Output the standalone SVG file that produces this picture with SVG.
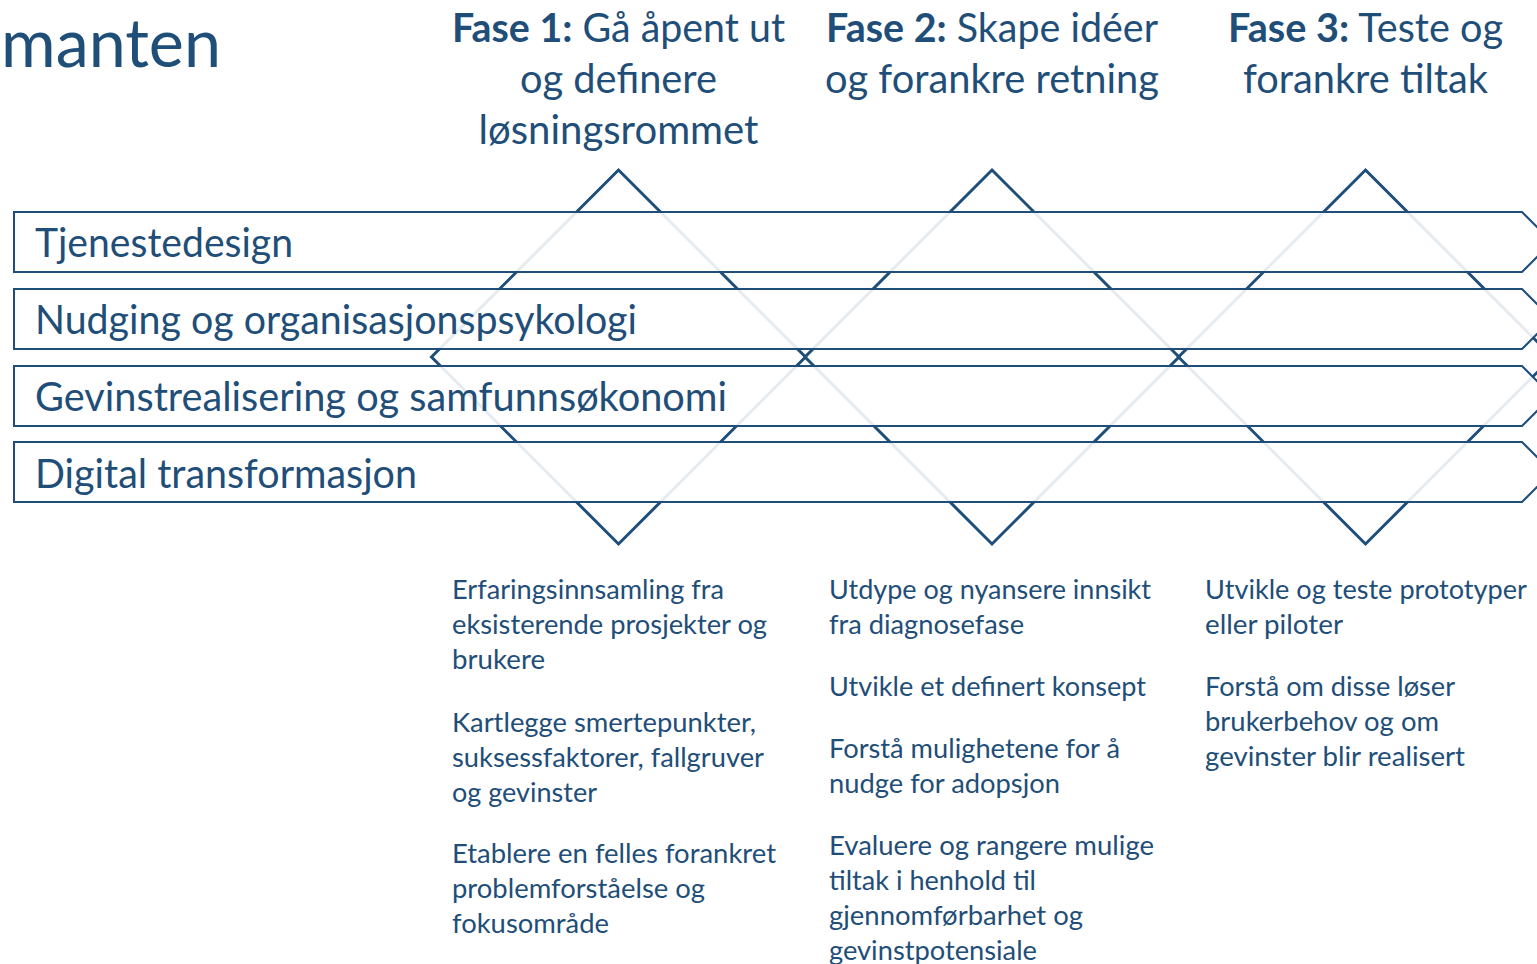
<svg xmlns="http://www.w3.org/2000/svg" width="1537" height="964" viewBox="0 0 1537 964">
<style>
  .t { font-family: Lato, "Open Sans", "Liberation Sans", sans-serif; fill: #1F4E79; }
  .h { font-size: 41px; text-anchor: middle; }
  .b { font-weight: 700; }
  .lab { font-size: 41px; }
  .d { font-size: 27.5px; }
  .dia { fill: none; stroke: #1F4E79; stroke-width: 3; stroke-linejoin: miter; }
  .bar { fill: #ffffff; fill-opacity: 0.89; stroke: #1F4E79; stroke-width: 2; }
</style>
<rect width="1537" height="964" fill="#ffffff"/>

<g id="title">
  <text class="t" x="1" y="67" font-size="68" textLength="220" lengthAdjust="spacingAndGlyphs">manten</text>
</g>

<g id="diamond-1"><path class="dia" d="M618.5 170 L805.5 357 L618.5 544 L431.5 357 Z"/></g>
<g id="diamond-2"><path class="dia" d="M992 170 L1179 357 L992 544 L805 357 Z"/></g>
<g id="diamond-3"><path class="dia" d="M1365.5 170 L1552.5 357 L1365.5 544 L1178.5 357 Z"/></g>

<g id="bar-tjenestedesign">
  <path class="bar" d="M14 212 H1522 L1552 242 L1522 272 H14 Z"/>
  <text class="t lab" x="35" y="257" textLength="258" lengthAdjust="spacingAndGlyphs">Tjenestedesign</text>
</g>
<g id="bar-nudging">
  <path class="bar" d="M14 289 H1522 L1552 319 L1522 349 H14 Z"/>
  <text class="t lab" x="35" y="334" textLength="602" lengthAdjust="spacingAndGlyphs">Nudging og organisasjonspsykologi</text>
</g>
<g id="bar-gevinst">
  <path class="bar" d="M14 366 H1522 L1552 396 L1522 426 H14 Z"/>
  <text class="t lab" x="35" y="411" textLength="692" lengthAdjust="spacingAndGlyphs">Gevinstrealisering og samfunnsøkonomi</text>
</g>
<g id="bar-digital">
  <path class="bar" d="M14 442 H1522 L1552 472 L1522 502 H14 Z"/>
  <text class="t lab" x="35" y="487.5" textLength="382" lengthAdjust="spacingAndGlyphs">Digital transformasjon</text>
</g>

<g id="fase-1-header">
  <text class="t h" x="618.5" y="42" textLength="333" lengthAdjust="spacingAndGlyphs"><tspan class="b">Fase 1:</tspan> Gå åpent ut</text>
  <text class="t h" x="618.5" y="93" textLength="197" lengthAdjust="spacingAndGlyphs">og definere</text>
  <text class="t h" x="618.5" y="144" textLength="280" lengthAdjust="spacingAndGlyphs">løsningsrommet</text>
</g>
<g id="fase-2-header">
  <text class="t h" x="992" y="42" textLength="332" lengthAdjust="spacingAndGlyphs"><tspan class="b">Fase 2:</tspan> Skape idéer</text>
  <text class="t h" x="992" y="93" textLength="334" lengthAdjust="spacingAndGlyphs">og forankre retning</text>
</g>
<g id="fase-3-header">
  <text class="t h" x="1365.5" y="42" textLength="275" lengthAdjust="spacingAndGlyphs"><tspan class="b">Fase 3:</tspan> Teste og</text>
  <text class="t h" x="1365.5" y="93" textLength="245" lengthAdjust="spacingAndGlyphs">forankre tiltak</text>
</g>

<g id="fase-1-tiltak">
  <text class="t d" x="452" y="599" textLength="272" lengthAdjust="spacingAndGlyphs">Erfaringsinnsamling fra</text>
  <text class="t d" x="452" y="634" textLength="315" lengthAdjust="spacingAndGlyphs">eksisterende prosjekter og</text>
  <text class="t d" x="452" y="669" textLength="93" lengthAdjust="spacingAndGlyphs">brukere</text>
  <text class="t d" x="452" y="732" textLength="304" lengthAdjust="spacingAndGlyphs">Kartlegge smertepunkter,</text>
  <text class="t d" x="452" y="767" textLength="312" lengthAdjust="spacingAndGlyphs">suksessfaktorer, fallgruver</text>
  <text class="t d" x="452" y="802" textLength="145" lengthAdjust="spacingAndGlyphs">og gevinster</text>
  <text class="t d" x="452" y="863" textLength="324" lengthAdjust="spacingAndGlyphs">Etablere en felles forankret</text>
  <text class="t d" x="452" y="898" textLength="253" lengthAdjust="spacingAndGlyphs">problemforståelse og</text>
  <text class="t d" x="452" y="933" textLength="157" lengthAdjust="spacingAndGlyphs">fokusområde</text>
</g>
<g id="fase-2-tiltak">
  <text class="t d" x="829" y="599" textLength="322" lengthAdjust="spacingAndGlyphs">Utdype og nyansere innsikt</text>
  <text class="t d" x="829" y="634" textLength="195" lengthAdjust="spacingAndGlyphs">fra diagnosefase</text>
  <text class="t d" x="829" y="696" textLength="317" lengthAdjust="spacingAndGlyphs">Utvikle et definert konsept</text>
  <text class="t d" x="829" y="758" textLength="291" lengthAdjust="spacingAndGlyphs">Forstå mulighetene for å</text>
  <text class="t d" x="829" y="793" textLength="231" lengthAdjust="spacingAndGlyphs">nudge for adopsjon</text>
  <text class="t d" x="829" y="855" textLength="325" lengthAdjust="spacingAndGlyphs">Evaluere og rangere mulige</text>
  <text class="t d" x="829" y="890" textLength="207" lengthAdjust="spacingAndGlyphs">tiltak i henhold til</text>
  <text class="t d" x="829" y="925" textLength="254" lengthAdjust="spacingAndGlyphs">gjennomførbarhet og</text>
  <text class="t d" x="829" y="960" textLength="208" lengthAdjust="spacingAndGlyphs">gevinstpotensiale</text>
</g>
<g id="fase-3-tiltak">
  <text class="t d" x="1205" y="599" textLength="322" lengthAdjust="spacingAndGlyphs">Utvikle og teste prototyper</text>
  <text class="t d" x="1205" y="634" textLength="138" lengthAdjust="spacingAndGlyphs">eller piloter</text>
  <text class="t d" x="1205" y="696" textLength="250" lengthAdjust="spacingAndGlyphs">Forstå om disse løser</text>
  <text class="t d" x="1205" y="731" textLength="234" lengthAdjust="spacingAndGlyphs">brukerbehov og om</text>
  <text class="t d" x="1205" y="766" textLength="260" lengthAdjust="spacingAndGlyphs">gevinster blir realisert</text>
</g>
</svg>
